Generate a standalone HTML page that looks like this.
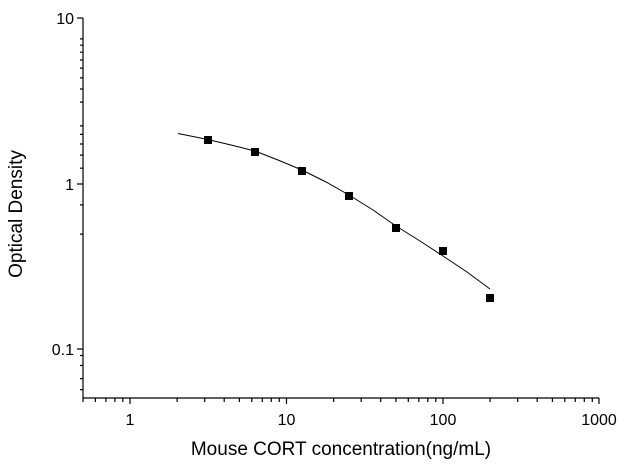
<!DOCTYPE html>
<html><head><meta charset="utf-8"><style>
body{margin:0;background:#fff;}
svg{display:block;font-family:"Liberation Sans",Arial,sans-serif;}
</style></head><body>
<svg width="630" height="475" viewBox="0 0 630 475" xmlns="http://www.w3.org/2000/svg">
<rect width="630" height="475" fill="#fff"/>
<g stroke="#000" stroke-width="1.2" fill="none">
<line x1="83" y1="18" x2="83" y2="398"/>
<line x1="83" y1="398" x2="599" y2="398"/>
<line x1="77" y1="18" x2="83" y2="18"/>
<line x1="77" y1="184" x2="83" y2="184"/>
<line x1="77" y1="349" x2="83" y2="349"/>
<path d="M80 234.1H83M80 204.9H83M80 168.2H83M80 155.1H83M80 144H83M80 134.4H83M80 125.9H83
M80 68.1H83M80 38.9H83M80 52.2H83M80 102.1H83M80 89H83M80 77.9H83M80 60H83M80 45.2H83
M80 378.6H83M80 365.5H83M80 355.5H83M80 389.6H83"/>
<path d="M130 398V404M286.5 398V404M443 398V404M599 398V404"/>
<path d="M83 398V402M95.4 398V402M105.9 398V402M114.9 398V402M122.8 398V402
M177.1 398V402M204.7 398V402M224.2 398V402M239.4 398V402M251.8 398V402M262.3 398V402M271.3 398V402M279.3 398V402
M333.6 398V402M361.2 398V402M380.7 398V402M395.9 398V402M408.3 398V402M418.8 398V402M427.8 398V402M435.8 398V402
M490.1 398V402M517.7 398V402M537.2 398V402M552.4 398V402M564.8 398V402M575.3 398V402M584.3 398V402M592.3 398V402"/>
</g>
<polyline fill="none" stroke="#000" stroke-width="1" points="178,133.5 193,136.5 207.7,139.5 231,145 255,151 278,160 302,170 326,182 349,195 373,210 396,226 420,241 443,256 467,272 490,289"/>
<g fill="#000">
<rect x="204" y="136" width="8" height="8"/>
<rect x="251" y="148" width="8" height="8"/>
<rect x="298" y="167" width="8" height="8"/>
<rect x="345" y="192" width="8" height="8"/>
<rect x="392" y="224" width="8" height="8"/>
<rect x="439" y="247" width="8" height="8"/>
<rect x="486" y="294" width="8" height="8"/>
</g>
<g font-size="16" fill="#000">
<text x="74" y="24" text-anchor="end">10</text>
<text x="74" y="190" text-anchor="end">1</text>
<text x="74" y="355" text-anchor="end">0.1</text>
<text x="130" y="425" text-anchor="middle">1</text>
<text x="286.5" y="425" text-anchor="middle">10</text>
<text x="443" y="425" text-anchor="middle">100</text>
<text x="599" y="425" text-anchor="middle">1000</text>
</g>
<text x="341" y="455" font-size="19" text-anchor="middle">Mouse CORT concentration(ng/mL)</text>
<text transform="translate(22,214) rotate(-90)" font-size="19" text-anchor="middle">Optical Density</text>
</svg>
</body></html>
